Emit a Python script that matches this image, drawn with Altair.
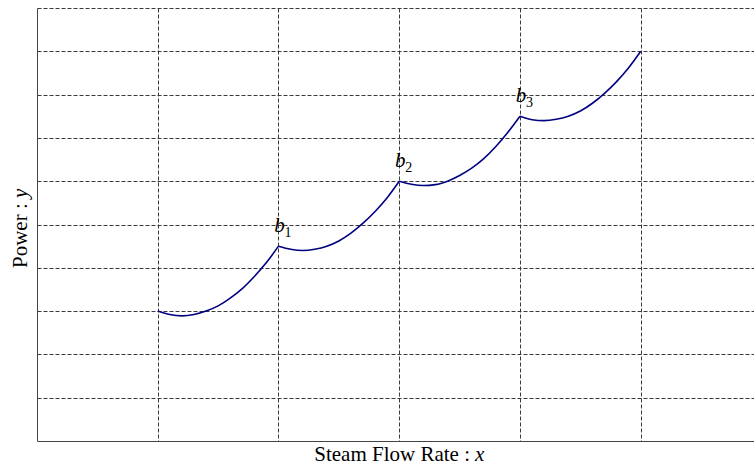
import altair as alt
import pandas as pd

# ---- data ----
seg1_x = [1.0, 1.1, 1.2, 1.3, 1.4, 1.5, 1.6, 1.7, 1.8, 1.9, 2.0]
seg1_y = [3.00, 2.92, 2.89, 2.92, 3.00, 3.12, 3.30, 3.52, 3.80, 4.12, 4.50]
seg2_x = [2.0, 2.1, 2.2, 2.3, 2.4, 2.5, 2.6, 2.7, 2.8, 2.9, 3.0]
seg2_y = [4.50, 4.43, 4.40, 4.43, 4.50, 4.62, 4.80, 5.03, 5.30, 5.62, 6.00]
seg3_x = [3.0, 3.1, 3.2, 3.3, 3.4, 3.5, 3.6, 3.7, 3.8, 3.9, 4.0]
seg3_y = [6.00, 5.93, 5.90, 5.92, 6.00, 6.13, 6.30, 6.52, 6.80, 7.13, 7.50]
seg4_x = [4.0, 4.1, 4.2, 4.3, 4.4, 4.5, 4.6, 4.7, 4.8, 4.9, 5.0]
seg4_y = [7.50, 7.42, 7.40, 7.43, 7.50, 7.62, 7.80, 8.03, 8.30, 8.62, 9.00]

b_x = [2.0, 3.0, 4.0]
b_y = [4.5, 6.0, 7.5]
b_sub = ["1", "2", "3"]

x_ticks = [1, 2, 3, 4, 5]
y_ticks = [1, 2, 3, 4, 5, 6, 7, 8, 9, 10]

x_title_main = "Steam Flow Rate :"
x_title_var = "x"
y_title_main = "Power :"
y_title_var = "y"

# ---- build tables ----
rows = []
for seg, (xs_, ys_) in enumerate([(seg1_x, seg1_y), (seg2_x, seg2_y),
                                  (seg3_x, seg3_y), (seg4_x, seg4_y)], start=1):
    for xv, yv in zip(xs_, ys_):
        rows.append({"x": xv, "y": yv, "seg": seg})
curve = pd.DataFrame(rows)
labels = pd.DataFrame({"x": b_x, "y": b_y, "sub": b_sub, "b": ["b"] * 3})

FONT = "Liberation Serif"
W, H = 717, 433
XMAX = 5.938

xs = alt.Scale(domain=[0, XMAX], nice=False, zero=False)
ys = alt.Scale(domain=[0, 10], nice=False)

xaxis = alt.Axis(values=x_ticks, labels=False, ticks=False, title=None,
                 grid=True, gridDash=[4, 2], gridColor="#3a3a3a", gridWidth=1,
                 domainColor="#444", domainWidth=1)
yaxis = alt.Axis(values=y_ticks, labels=False, ticks=False, title=None,
                 grid=True, gridDash=[4, 2], gridColor="#3a3a3a", gridWidth=1,
                 domainColor="#444", domainWidth=1)

line = alt.Chart(curve).mark_line(color="#000080", strokeWidth=1.6,
                                  interpolate="monotone").encode(
    x=alt.X("x:Q", scale=xs, axis=xaxis),
    y=alt.Y("y:Q", scale=ys, axis=yaxis),
    detail="seg:N",
)

b_text = alt.Chart(labels).mark_text(font=FONT, fontStyle="italic", fontSize=21,
                                     align="center", baseline="alphabetic",
                                     dx=1, dy=-14, fill="black").encode(
    x=alt.X("x:Q", scale=xs), y=alt.Y("y:Q", scale=ys), text="b:N")
sub_text = alt.Chart(labels).mark_text(font=FONT, fontSize=14, align="left",
                                       baseline="alphabetic", dx=6, dy=-9,
                                       fill="black").encode(
    x=alt.X("x:Q", scale=xs), y=alt.Y("y:Q", scale=ys), text="sub:N")

xt1 = alt.Chart(pd.DataFrame({"t": [x_title_main]})).mark_text(
    font=FONT, fontSize=21, align="right", baseline="alphabetic", fill="black"
).encode(x=alt.value(433), y=alt.value(453), text="t:N")
xt2 = alt.Chart(pd.DataFrame({"t": [x_title_var]})).mark_text(
    font=FONT, fontSize=21, fontStyle="italic", align="left",
    baseline="alphabetic", fill="black"
).encode(x=alt.value(438), y=alt.value(453), text="t:N")

yt1 = alt.Chart(pd.DataFrame({"t": [y_title_main]})).mark_text(
    font=FONT, fontSize=21, align="left", baseline="alphabetic", angle=270,
    fill="black"
).encode(x=alt.value(-10), y=alt.value(260), text="t:N")
yt2 = alt.Chart(pd.DataFrame({"t": [y_title_var]})).mark_text(
    font=FONT, fontSize=21, fontStyle="italic", align="left",
    baseline="alphabetic", angle=270, fill="black"
).encode(x=alt.value(-10), y=alt.value(190), text="t:N")

chart = alt.layer(line, b_text, sub_text, xt1, xt2, yt1, yt2).properties(
    width=W, height=H,
    autosize=alt.AutoSizeParams(type="none"),
    padding={"left": 37, "top": 8, "right": 0, "bottom": 25},
    background="white",
).configure_view(stroke=None)

chart.save("out.html", embed_options={"renderer": "svg", "actions": False})
